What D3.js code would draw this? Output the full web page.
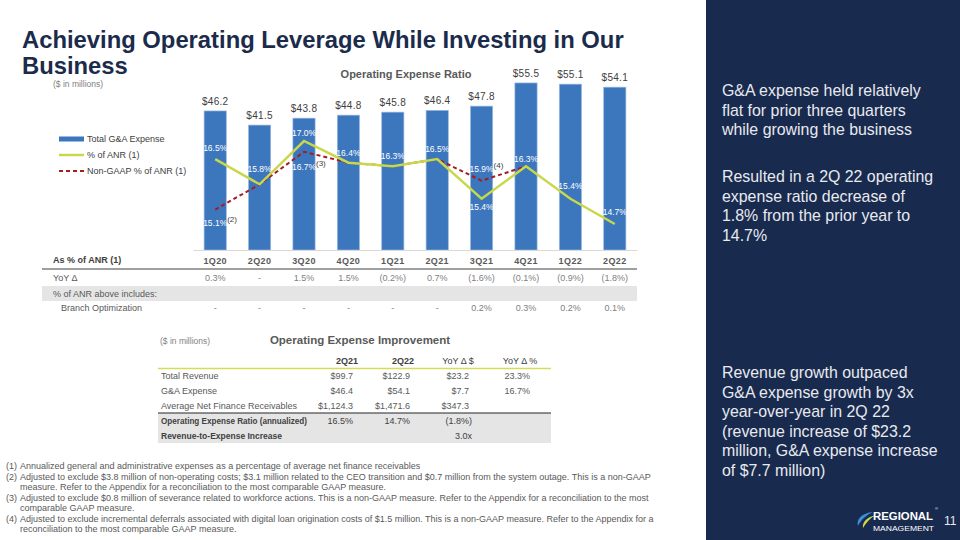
<!DOCTYPE html>
<html><head><meta charset="utf-8">
<script src="https://cdn.jsdelivr.net/npm/d3@7"></script>
<style>
html,body{margin:0;padding:0;background:#fff;}
svg{display:block;font-family:"Liberation Sans",Arial,sans-serif;}
</style></head>
<body>
<svg id="c" width="960" height="540"></svg>
<script>
// ---------- DATA ----------
const categories = ["1Q20","2Q20","3Q20","4Q20","1Q21","2Q21","3Q21","4Q21","1Q22","2Q22"];
const gaExpense = [46.2, 41.5, 43.8, 44.8, 45.8, 46.4, 47.8, 55.5, 55.1, 54.1];
const pctANR = [16.5, 15.8, 17.0, 16.4, 16.3, 16.5, 15.4, 16.3, 15.4, 14.7];
const nonGaapPctANR = [15.1, 15.8, 16.7, 16.4, 16.3, 16.5, 15.9, 16.3, null, null];
const nonGaapLabelled = ["1Q20","3Q20","3Q21"];
const nonGaapNotes = ["(2)","(3)","(4)"];
const yoyDelta = ["0.3%","-","1.5%","1.5%","(0.2%)","0.7%","(1.6%)","(0.1%)","(0.9%)","(1.8%)"];
const branchOpt = ["-","-","-","-","-","-","0.2%","0.3%","0.2%","0.1%"];

const impColumns = ["2Q21","2Q22","YoY \u0394 $","YoY \u0394 %"];
const impRows = ["Total Revenue","G&A Expense","Average Net Finance Receivables","Operating Expense Ratio (annualized)","Revenue-to-Expense Increase"];
const impValues = [
  ["$99.7","$122.9","$23.2","23.3%"],
  ["$46.4","$54.1","$7.7","16.7%"],
  ["$1,124.3","$1,471.6","$347.3",""],
  ["16.5%","14.7%","(1.8%)",""],
  ["","","3.0x",""]
];

const bullets1 = ["G&A expense held relatively","flat for prior three quarters","while growing the business"];
const bullets2 = ["Resulted in a 2Q 22 operating","expense ratio decrease of","1.8% from the prior year to","14.7%"];
const bullets3 = ["Revenue growth outpaced","G&A expense growth by 3x","year-over-year in 2Q 22","(revenue increase of $23.2","million, G&A expense increase","of $7.7 million)"];

const footnotes = [
  ["(1)","Annualized general and administrative expenses as a percentage of average net finance receivables"],
  ["(2)","Adjusted to exclude $3.8 million of non-operating costs; $3.1 million related to the CEO transition and $0.7 million from the system outage. This is a non-GAAP"],
  ["","measure. Refer to the Appendix for a reconciliation to the most comparable GAAP measure."],
  ["(3)","Adjusted to exclude $0.8 million of severance related to workforce actions. This is a non-GAAP measure. Refer to the Appendix for a reconciliation to the most"],
  ["","comparable GAAP measure."],
  ["(4)","Adjusted to exclude incremental deferrals associated with digital loan origination costs of $1.5 million. This is a non-GAAP measure. Refer to the Appendix for a"],
  ["","reconciliation to the most comparable GAAP measure."]
];

// ---------- LAYOUT / STYLE ----------
const C = {
  navy:"#182b4f", title:"#1b2b4b", bar:"#3c76bd", barStroke:"#9bbbe0",
  lime:"#c8d84a", red:"#a51c24", text:"#404040", grey:"#595959", light:"#7f7f7f", band:"#e5e5e5"
};
const pctDy = [-8,-12,-5,-7,-7,-7,11,-4,-10,-9];
const nonGaapDy = [16,18,-9];

const svg = d3.select("#c");

svg.append("rect").attr("x",706).attr("y",0).attr("width",254).attr("height",540).attr("fill",C.navy);

// ---------- scales ----------
const x = d3.scaleBand().domain(categories).range([193,637]).paddingInner(0.5).paddingOuter(0.25);
const yBar = d3.scaleLinear().domain([0,60]).range([250,69.4]);
const yPct = d3.scaleLinear().domain([13,18]).range([285.4,104.9]);
const cx = c => x(c) + x.bandwidth()/2;

svg.append("text").attr("x",53).attr("y",87).attr("font-size",8.5).attr("fill",C.light).text("($ in millions)");

const title = svg.append("text").attr("font-size",23.8).attr("font-weight","bold").attr("fill",C.title);
title.append("tspan").attr("x",22).attr("y",48).text("Achieving Operating Leverage While Investing in Our");
title.append("tspan").attr("x",22).attr("y",74).text("Business");

svg.append("text").attr("x",406).attr("y",78).attr("text-anchor","middle").attr("font-size",11).attr("font-weight","bold").attr("fill",C.grey).text("Operating Expense Ratio");

// bars
const g = svg.append("g");
g.selectAll("rect.bar").data(categories).join("rect").attr("class","bar")
  .attr("x",c=>x(c)).attr("width",x.bandwidth())
  .attr("y",(c,i)=>yBar(gaExpense[i])).attr("height",(c,i)=>yBar(0)-yBar(gaExpense[i]))
  .attr("fill",C.bar).attr("stroke",C.barStroke).attr("stroke-width",0.7);

g.selectAll("text.val").data(categories).join("text").attr("class","val")
  .attr("x",cx).attr("y",(c,i)=>yBar(gaExpense[i])-6).attr("text-anchor","middle")
  .attr("font-size",10).attr("fill",C.text).attr("letter-spacing",0.3)
  .text((c,i)=>"$"+d3.format(".1f")(gaExpense[i]));

const xAxis = d3.axisBottom(x).tickSize(0).tickFormat("");
const ax = svg.append("g").attr("transform","translate(0,250)").call(xAxis);
ax.select(".domain").attr("stroke","#d9d9d9").attr("stroke-width",1);

// lines
const line = d3.line().defined(d=>d.v!=null).x(d=>cx(d.c)).y(d=>yPct(d.v));
svg.append("path").datum(categories.map((c,i)=>({c,v:nonGaapPctANR[i]})))
  .attr("d",line).attr("fill","none").attr("stroke",C.red).attr("stroke-width",2).attr("stroke-dasharray","4,3");
svg.append("path").datum(categories.map((c,i)=>({c,v:pctANR[i]})))
  .attr("d",line).attr("fill","none").attr("stroke",C.lime).attr("stroke-width",2.5);

svg.selectAll("text.pct").data(categories).join("text").attr("class","pct")
  .attr("x",cx).attr("y",(c,i)=>yPct(pctANR[i])+pctDy[i]).attr("text-anchor","middle")
  .attr("font-size",8.5).attr("fill","#fff").text((c,i)=>d3.format(".1f")(pctANR[i])+"%");
nonGaapLabelled.forEach((c,k)=>{
  const i = categories.indexOf(c);
  const yy = yPct(nonGaapPctANR[i])+nonGaapDy[k];
  svg.append("text").attr("x",cx(c)).attr("y",yy).attr("text-anchor","middle")
    .attr("font-size",8.5).attr("fill","#fff").text(d3.format(".1f")(nonGaapPctANR[i])+"%");
  svg.append("text").attr("x",cx(c)+12).attr("y",yy-4).attr("font-size",8).attr("fill",C.text).text(nonGaapNotes[k]);
});

// legend
const leg = svg.append("g").attr("transform","translate(59,139)");
const legItems = [
  {t:"Total G&A Expense", type:"bar"},
  {t:"% of ANR (1)", type:"line"},
  {t:"Non-GAAP % of ANR (1)", type:"dash"}
];
legItems.forEach((d,i)=>{
  const gy = i*16;
  if(d.type==="bar") leg.append("rect").attr("x",0).attr("y",gy-2.5).attr("width",25).attr("height",5).attr("fill",C.bar);
  else leg.append("line").attr("x1",0).attr("x2",25).attr("y1",gy).attr("y2",gy)
    .attr("stroke",d.type==="line"?C.lime:C.red).attr("stroke-width",d.type==="line"?2.5:2)
    .attr("stroke-dasharray",d.type==="dash"?"4,3":null);
  leg.append("text").attr("x",28).attr("y",gy+3.3).attr("font-size",9).attr("fill",C.text).text(d.t);
});

// ---------- table under chart ----------
const tb = svg.append("g");
tb.append("text").attr("x",53).attr("y",263).attr("font-size",9).attr("font-weight","bold").attr("fill",C.text).text("As % of ANR (1)");
tb.selectAll("text.cat").data(categories).join("text").attr("class","cat")
  .attr("x",cx).attr("y",264).attr("text-anchor","middle").attr("font-size",9).attr("font-weight","bold")
  .attr("fill",C.grey).attr("letter-spacing",0.4).text(c=>c);
tb.append("line").attr("x1",42).attr("x2",637).attr("y1",269).attr("y2",269).attr("stroke","#7f7f7f").attr("stroke-width",1.6);
tb.append("text").attr("x",53).attr("y",281).attr("font-size",9).attr("fill",C.grey).text("YoY \u0394");
tb.selectAll("text.yoy").data(categories).join("text").attr("class","yoy")
  .attr("x",cx).attr("y",281).attr("text-anchor","middle").attr("font-size",9).attr("fill",C.light).text((c,i)=>yoyDelta[i]);
tb.append("rect").attr("x",42).attr("y",286).attr("width",595).attr("height",15).attr("fill",C.band);
tb.append("text").attr("x",53).attr("y",297).attr("font-size",9).attr("fill",C.grey).text("% of ANR above includes:");
tb.append("text").attr("x",61).attr("y",311).attr("font-size",9).attr("fill",C.grey).text("Branch Optimization");
tb.selectAll("text.bo").data(categories).join("text").attr("class","bo")
  .attr("x",cx).attr("y",311).attr("text-anchor","middle").attr("font-size",9).attr("fill",C.light).text((c,i)=>branchOpt[i]);

// ---------- Operating Expense Improvement table ----------
const it = svg.append("g");
it.append("text").attr("x",160).attr("y",344).attr("font-size",8.5).attr("fill",C.light).text("($ in millions)");
it.append("text").attr("x",360).attr("y",344).attr("text-anchor","middle").attr("font-size",11.5).attr("font-weight","bold").attr("fill",C.grey).text("Operating Expense Improvement");
const colX = [353,410,469,530];
const colHeadX = [347,403,458,520];
impColumns.forEach((h,j)=>{
  it.append("text").attr("x",colHeadX[j]).attr("y",364).attr("text-anchor","middle").attr("font-size",9).attr("fill",C.text)
    .attr("font-weight",j<2?"bold":"normal").text(h);
});
it.append("line").attr("x1",158).attr("x2",551).attr("y1",368.5).attr("y2",368.5).attr("stroke","#d3dc5c").attr("stroke-width",1.6);
it.append("rect").attr("x",158).attr("y",413).attr("width",393).attr("height",30).attr("fill",C.band);
it.append("line").attr("x1",158).attr("x2",551).attr("y1",413).attr("y2",413).attr("stroke","#262626").attr("stroke-width",1.2);
const rowY = [379,394,409,424,439];
const boldLabelW = {3:146, 4:121};
impRows.forEach((r,i)=>{
  const bold = i>=3;
  const t = it.append("text").attr("x",161).attr("y",rowY[i]).attr("font-size",9).attr("fill",bold?C.text:C.grey)
    .attr("font-weight",bold?"bold":"normal").text(r);
  if(boldLabelW[i]) t.attr("textLength",boldLabelW[i]).attr("lengthAdjust","spacingAndGlyphs");
  impValues[i].forEach((v,j)=>{
    if(!v) return;
    const paren = v.startsWith("(") || v.endsWith("x");
    it.append("text").attr("x",colX[j]+(paren?3:0)).attr("y",rowY[i]).attr("text-anchor","end")
      .attr("font-size",9).attr("fill",bold?C.text:C.grey).text(v);
  });
});

// ---------- footnotes ----------
const fy = [469,479.5,490,500.5,511,521.5,532];
footnotes.forEach((f,i)=>{
  if(f[0]) svg.append("text").attr("x",6).attr("y",fy[i]).attr("font-size",9).attr("fill",C.grey).text(f[0]);
  svg.append("text").attr("x",20).attr("y",fy[i]).attr("font-size",9).attr("fill",C.grey).text(f[1]);
});

// ---------- right panel text ----------
function para(lines, y0){
  lines.forEach((l,i)=>svg.append("text").attr("x",722).attr("y",y0+i*19.5).attr("font-size",15.9).attr("fill","#e9e9ee").text(l));
}
para(bullets1,96);
para(bullets2,182);
para(bullets3,378);

// logo
const lg = svg.append("g");
lg.append("path").attr("d","M873,512 C862,513 856,519 858,526 C860,521 866,515 873,512Z").attr("fill","#3b8fd6");
lg.append("path").attr("d","M876,515 C867,517 862,522 863,528 C866,523 870,518 876,515Z").attr("fill","#c8d84a");
lg.append("text").attr("x",873).attr("y",519.5).attr("font-size",11.5).attr("font-weight","bold").attr("fill","#fff")
  .attr("textLength",60).attr("lengthAdjust","spacingAndGlyphs").text("REGIONAL");
lg.append("text").attr("x",935).attr("y",510).attr("font-size",4).attr("fill","#fff").text("\u00AE");
lg.append("text").attr("x",873).attr("y",530.5).attr("font-size",8).attr("fill","#fff")
  .attr("textLength",61).attr("lengthAdjust","spacingAndGlyphs").text("MANAGEMENT");
lg.append("text").attr("x",944).attr("y",525).attr("font-size",12).attr("fill","#e9e9ee").text("11");
</script>
</body></html>
